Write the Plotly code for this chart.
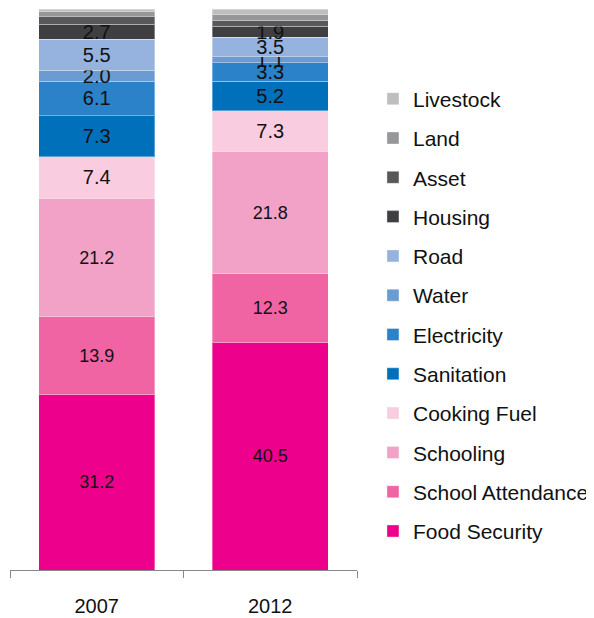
import plotly.graph_objects as go

# ── data ────────────────────────────────────────────────────────────────────
years = ["2007", "2012"]

indicators = [
    "Food Security", "School Attendance", "Schooling", "Cooking Fuel",
    "Sanitation", "Electricity", "Water", "Road", "Housing",
    "Asset", "Land", "Livestock",
]

food_security     = [31.2, 40.5]
school_attendance = [13.9, 12.3]
schooling         = [21.2, 21.8]
cooking_fuel      = [7.4, 7.3]
sanitation        = [7.3, 5.2]
electricity       = [6.1, 3.3]
water             = [2.0, 1.1]
road              = [5.5, 3.5]
housing           = [2.7, 1.9]
asset             = [1.4, 1.0]
land              = [0.8, 1.1]
livestock         = [0.5, 1.0]

values = [
    food_security, school_attendance, schooling, cooking_fuel,
    sanitation, electricity, water, road, housing,
    asset, land, livestock,
]

colors = [
    "#EC008C", "#F064A4", "#F2A2C6", "#F9CCE0",
    "#0070BA", "#2B82C9", "#6A9BD3", "#95B3DE", "#3F3F41",
    "#58585B", "#97979A", "#BEBEC1",
]

# labelled segments and their label size
labelled = set(indicators[:9])
small_font = {"Food Security", "School Attendance", "Schooling"}

FONT = "Liberation Sans, Arial, sans-serif"

fig = go.Figure()

for i, (name, vals, col) in enumerate(zip(indicators, values, colors)):
    show = name in labelled
    fig.add_trace(go.Bar(
        x=years, y=vals, name=name,
        legendgroup=name,
        legendrank=len(indicators) - i,   # top of stack listed first
        marker=dict(color=col, line=dict(color="rgba(255,255,255,0.35)", width=1)),
        text=[f"{v:.1f}" for v in vals] if show else None,
        textposition="inside" if show else "none",
        insidetextanchor="middle",
        textangle=0,
        constraintext="none",
        textfont=dict(family=FONT, color="#111111",
                      size=18 if name in small_font else 20),
        hoverinfo="skip",
    ))

# page body has an 8px margin, so the figure is a bit smaller than the window
fig.update_layout(
    barmode="stack",
    bargap=0.33,
    width=586, height=610,
    margin=dict(l=2, r=237, t=1, b=48, autoexpand=False),
    paper_bgcolor="white", plot_bgcolor="white",
    font=dict(family=FONT, color="#111111", size=20),
    legend=dict(
        traceorder="grouped",
        tracegroupgap=9,
        x=1.046, xanchor="left",
        y=0.876, yanchor="top",
        font=dict(size=21, family=FONT),
        bgcolor="rgba(0,0,0,0)",
    ),
)

fig.update_xaxes(
    showline=True, linecolor="#888888", linewidth=1,
    ticks="outside", tickson="boundaries", ticklen=7,
    tickcolor="#888888",
    ticklabelstandoff=18,
    tickfont=dict(size=20, family=FONT, color="#111111"),
    showgrid=False,
)
fig.update_yaxes(range=[0, 100], visible=False, showgrid=False)

fig.write_html("out.html")
